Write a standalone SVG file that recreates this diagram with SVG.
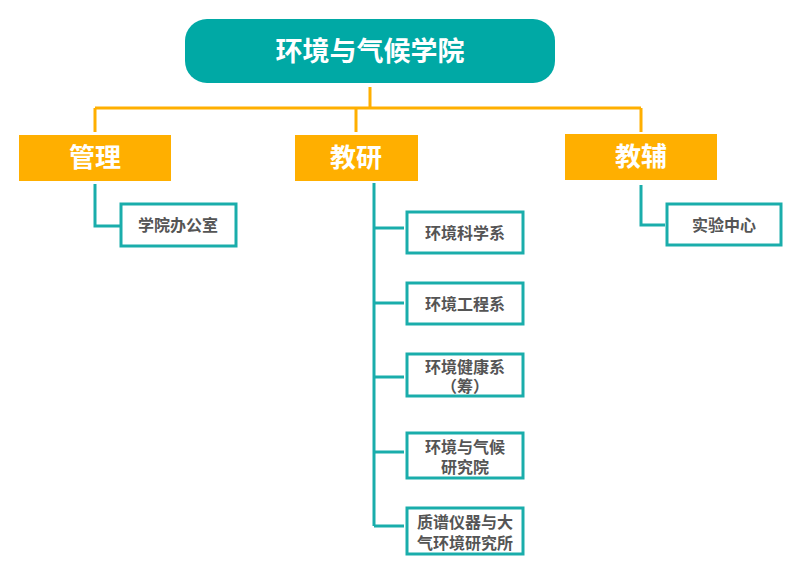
<svg xmlns="http://www.w3.org/2000/svg" width="799" height="570" viewBox="0 0 799 570">
<style>
.or{fill:#FFAF00}
.cl{fill:none;stroke-width:3}
.oc{stroke:#FFAF00}
.tc{stroke:#1AADAB}
.bx{fill:#fff;stroke:#1AADAB;stroke-width:3}
.tl{font-family:"Noto Sans CJK SC","Noto Sans",sans-serif;font-weight:bold;fill:#fff;font-size:26px;text-anchor:middle}
.sl{font-family:"Noto Sans CJK SC","Noto Sans",sans-serif;font-weight:bold;fill:#555;font-size:16px;text-anchor:middle}
</style>
<rect width="799" height="570" fill="#fff"/>
<g id="connectors">
<path class="cl oc" d="M370,87 V108 M95,108 H641 M95,108 V132 M356,108 V132 M641,108 V132"/>
<path class="cl tc" d="M95,184 V226 H120"/>
<path class="cl tc" d="M374,183 V526 M374,228 H404 M374,303 H404 M374,377 H404 M374,452 H404 M374,526 H404"/>
<path class="cl tc" d="M641,185 V225 H665"/>
</g>
<g id="root">
<rect x="185" y="19" width="370" height="64" rx="22" fill="#00A9A5"/>
<text class="tl" x="370" y="61" style="font-size:27px">环境与气候学院</text>
</g>
<g id="guanli">
<rect class="or" x="19" y="135" width="152" height="46"/>
<text class="tl" x="95" y="167">管理</text>
</g>
<g id="jiaoyan">
<rect class="or" x="295" y="135" width="123" height="46"/>
<text class="tl" x="356" y="167">教研</text>
</g>
<g id="jiaofu">
<rect class="or" x="565" y="134" width="152" height="46"/>
<text class="tl" x="641" y="166">教辅</text>
</g>
<g id="xueyuan">
<rect class="bx" x="121" y="204" width="115" height="42"/>
<text class="sl" x="178" y="231">学院办公室</text>
</g>
<g id="shiyan">
<rect class="bx" x="667" y="204" width="114" height="41"/>
<text class="sl" x="724" y="231">实验中心</text>
</g>
<g id="kexue">
<rect class="bx" x="407" y="212" width="116" height="41"/>
<text class="sl" x="465" y="239">环境科学系</text>
</g>
<g id="gongcheng">
<rect class="bx" x="407" y="283" width="116" height="41"/>
<text class="sl" x="465" y="310">环境工程系</text>
</g>
<g id="jiankang">
<rect class="bx" x="407" y="354" width="116" height="42"/>
<text class="sl" x="465" y="373">环境健康系</text>
<text class="sl" x="465" y="392">（筹）</text>
</g>
<g id="qihou">
<rect class="bx" x="407" y="433" width="116" height="45"/>
<text class="sl" x="465" y="453">环境与气候</text>
<text class="sl" x="465" y="473">研究院</text>
</g>
<g id="zhipu">
<rect class="bx" x="407" y="508" width="116" height="46"/>
<text class="sl" x="465" y="528">质谱仪器与大</text>
<text class="sl" x="465" y="549">气环境研究所</text>
</g>
</svg>
